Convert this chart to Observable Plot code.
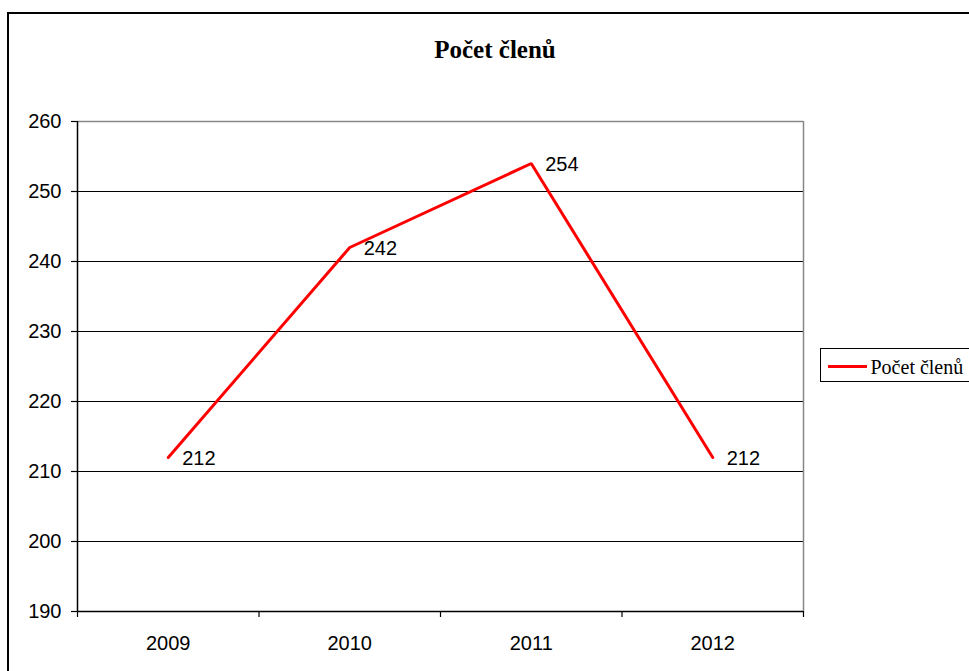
<!DOCTYPE html>
<html>
<head>
<meta charset="utf-8">
<script src="https://cdn.jsdelivr.net/npm/d3@7"></script>
<script src="https://cdn.jsdelivr.net/npm/@observablehq/plot@0.6"></script>
<style>
  html, body { margin: 0; padding: 0; background: #fff; }
  #wrap { position: relative; width: 969px; height: 671px; overflow: hidden; }
  #frame { position: absolute; left: 7px; top: 12px; width: 1000px; height: 700px; border: 2px solid #000; box-sizing: border-box; pointer-events: none; }
  #title { position: absolute; left: 0; width: 990px; top: 37px; line-height: 25px; text-align: center; font-family: "Liberation Serif", "Times New Roman", serif; font-weight: bold; font-size: 25px; }
  #legend { position: absolute; left: 820px; top: 348px; width: 170px; height: 34px; border: 1.5px solid #000; box-sizing: border-box; background: #fff; font-family: "Liberation Serif", "Times New Roman", serif; font-size: 20px; }
  #legend .swatch { position: absolute; left: 6.5px; top: 16px; width: 39px; height: 3px; background: #ff0000; }
  #legend .lbl { position: absolute; left: 49.5px; top: 8px; line-height: 20px; white-space: nowrap; }
  #chart { position: absolute; left: 0; top: 0; }
</style>
</head>
<body>
<div id="wrap">
  <div id="chart"></div>
  <div id="title">Počet členů</div>
  <div id="legend"><div class="swatch"></div><div class="lbl">Počet členů</div></div>
  <div id="frame"></div>
</div>
<script>
const years = [2009, 2010, 2011, 2012];
const members = [212, 242, 254, 212];
const yTicks = [190, 200, 210, 220, 230, 240, 250, 260];
const gridValues = [200, 210, 220, 230, 240, 250];
const bandEdges = [2008.5, 2009.5, 2010.5, 2011.5, 2012.5];

const data = years.map((y, i) => ({year: y, value: members[i]}));

const chart = Plot.plot({
  width: 969,
  height: 671,
  marginLeft: 77,
  marginRight: 166,
  marginTop: 121,
  marginBottom: 60,
  style: {fontFamily: "'Liberation Sans', Arial, sans-serif", fontSize: "20px", color: "#000", background: "transparent"},
  x: {type: "linear", domain: [2008.5, 2012.5]},
  y: {domain: [190, 260]},
  marks: [
    Plot.ruleY(gridValues, {stroke: "#000", strokeWidth: 1.2}),
    Plot.ruleY([260], {stroke: "#888", strokeWidth: 1.5}),
    Plot.ruleX([2012.5], {stroke: "#888", strokeWidth: 1.5}),
    Plot.axisY({ticks: yTicks, tickSize: 6, tickPadding: 10, tickFormat: d => String(d), label: null, stroke: "#000", strokeWidth: 1.2, fontSize: 20}),
    Plot.axisX({ticks: bandEdges, tickSize: 6, tickFormat: () => "", label: null, stroke: "#000", strokeWidth: 1.2}),
    Plot.axisX({ticks: years, tickSize: 0, tickPadding: 24, tickFormat: d => String(d), label: null, fontSize: 20}),
    Plot.ruleX([2008.5], {stroke: "#000", strokeWidth: 1.5}),
    Plot.ruleY([190], {stroke: "#000", strokeWidth: 1.5}),
    Plot.line(data, {x: "year", y: "value", stroke: "#ff0000", strokeWidth: 3, strokeLinejoin: "miter"}),
    Plot.text(data, {x: "year", y: "value", text: d => String(d.value), dx: 14, dy: 1, textAnchor: "start", fontSize: 20, fill: "#000"})
  ]
});
document.getElementById("chart").appendChild(chart);
</script>
</body>
</html>
